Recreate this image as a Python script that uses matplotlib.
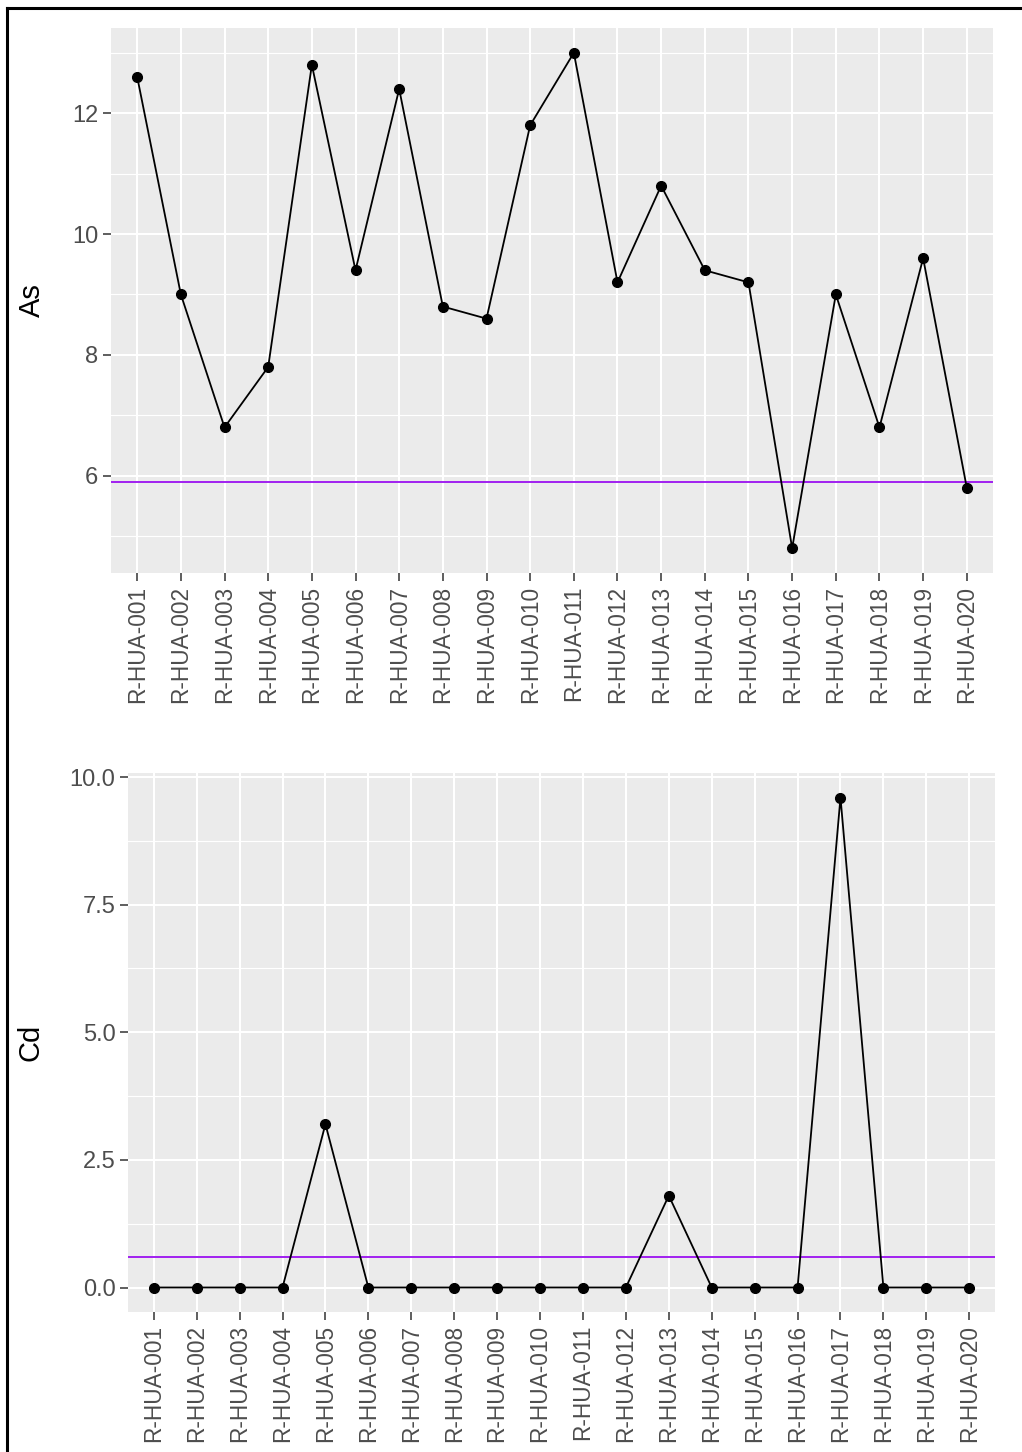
import matplotlib
matplotlib.use('Agg')
import matplotlib.pyplot as plt
from matplotlib.lines import Line2D
from matplotlib.ticker import MultipleLocator

plt.rcParams['font.family'] = ['Liberation Sans', 'DejaVu Sans']

# sample ids
samples = ['R-HUA-%03d' % i for i in range(1, 21)]

# arsenic values
as_vals = [12.6, 9.0, 6.8, 7.8, 12.8, 9.4, 12.4, 8.8, 8.6, 11.8,
           13.0, 9.2, 10.8, 9.4, 9.2, 4.8, 9.0, 6.8, 9.6, 5.8]
as_limit = 5.9
as_ticks = [6, 8, 10, 12]

# cadmium values
cd_vals = [0, 0, 0, 0, 3.2, 0, 0, 0, 0, 0,
           0, 0, 1.8, 0, 0, 0, 9.6, 0, 0, 0]
cd_limit = 0.6
cd_ticks = [0.0, 2.5, 5.0, 7.5, 10.0]

W, H = 1022, 1452
fig = plt.figure(figsize=(W / 100, H / 100), dpi=100)

def panel(rect, vals, limit, ticks, fmt, label, label_x):
    ax = fig.add_axes(rect)
    ax.set_facecolor('#EBEBEB')
    x = list(range(len(samples)))
    ax.plot(x, vals, color='black', lw=1.3, marker='o', ms=7, zorder=3)
    ax.axhline(limit, color='#A020F0', lw=1.4, zorder=2)
    lo, hi = min(vals), max(vals)
    pad = (hi - lo) * 0.05
    ax.set_ylim(lo - pad, hi + pad)
    ax.set_xlim(-0.6, len(samples) - 0.4)
    ax.set_xticks(x)
    ax.set_xticklabels(samples, rotation=90)
    ax.set_yticks(ticks)
    ax.set_yticklabels([fmt % t for t in ticks])
    step = ticks[1] - ticks[0]
    ax.yaxis.set_minor_locator(MultipleLocator(step / 2))
    ax.grid(which='major', color='white', lw=1.5)
    ax.grid(which='minor', axis='y', color='white', lw=0.8)
    ax.set_axisbelow(True)
    for s in ax.spines.values():
        s.set_visible(False)
    ax.tick_params(which='major', length=5.5, width=1.1, color='#333333',
                   labelcolor='#4D4D4D', pad=3.5)
    ax.tick_params(axis='x', labelsize=16.3)
    ax.tick_params(axis='y', labelsize=17)
    ax.tick_params(which='minor', length=0)
    ax.set_ylabel(label, fontsize=21, color='black')
    ax.yaxis.set_label_coords(label_x, 0.5)
    return ax

panel([111 / W, 1 - 573 / H, 882 / W, 545 / H], as_vals, as_limit,
      as_ticks, '%d', 'As', -0.074)
panel([128 / W, 1 - 1312 / H, 867 / W, 539 / H], cd_vals, cd_limit,
      cd_ticks, '%.1f', 'Cd', -0.096)

# screenshot border (left and top edges)
fig.add_artist(Line2D([7 / W, 7 / W], [0, 1 - 8 / H], transform=fig.transFigure,
                      color='black', lw=2.2))
fig.add_artist(Line2D([7 / W, 1], [1 - 8 / H, 1 - 8 / H], transform=fig.transFigure,
                      color='black', lw=2.2))

fig.savefig('out.png', dpi=100)
